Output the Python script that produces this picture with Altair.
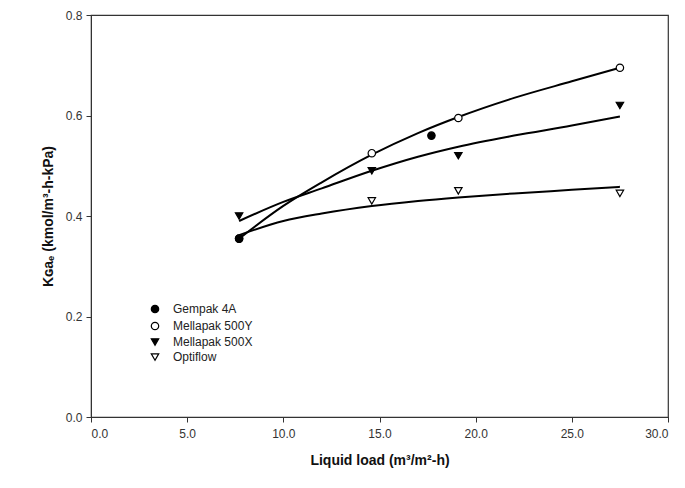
import altair as alt
import pandas as pd

series_names = ["Gempak 4A", "Mellapak 500Y", "Mellapak 500X", "Optiflow"]

# measured points
gempak_x = [7.7, 17.7]
gempak_y = [0.355, 0.56]
m500y_x = [7.7, 14.6, 19.1, 27.5]
m500y_y = [0.355, 0.525, 0.595, 0.695]
m500x_x = [7.7, 14.6, 19.1, 27.5]
m500x_y = [0.40, 0.49, 0.52, 0.62]
opti_x = [14.6, 19.1, 27.5]
opti_y = [0.43, 0.45, 0.445]

# fitted curves
fit_x = [7.7, 10.0, 12.0, 14.6, 17.0, 19.1, 22.0, 25.0, 27.5]
fit_500y = [0.355, 0.42, 0.467, 0.522, 0.565, 0.597, 0.635, 0.668, 0.695]
fit_500x = [0.39, 0.428, 0.455, 0.49, 0.518, 0.538, 0.56, 0.58, 0.598]
fit_opti = [0.362, 0.39, 0.405, 0.42, 0.43, 0.437, 0.445, 0.452, 0.458]

rows = []
for name, xs, ys in [
    ("Mellapak 500Y", m500y_x, m500y_y),
    ("Mellapak 500X", m500x_x, m500x_y),
    ("Optiflow", opti_x, opti_y),
    ("Gempak 4A", gempak_x, gempak_y),
]:
    for x, y in zip(xs, ys):
        rows.append({"series": name, "x": x, "y": y, "order": len(rows)})
pts = pd.DataFrame(rows)

frows = []
for name, ys in [("500Y", fit_500y), ("500X", fit_500x), ("Opti", fit_opti)]:
    for x, y in zip(fit_x, ys):
        frows.append({"fit": name, "x": x, "y": y})
fits = pd.DataFrame(frows)

xscale = alt.Scale(domain=[0, 30], nice=False)
yscale = alt.Scale(domain=[0, 0.8], nice=False)

xaxis = alt.Axis(
    title="Liquid load (m³/m²-h)",
    values=[0, 5, 10, 15, 20, 25, 30],
    format=".1f",
    grid=False,
    tickSize=5,
    labelPadding=6,
    titlePadding=14,
)
yaxis = alt.Axis(
    title="Kɢaₑ (kmol/m³-h-kPa)",
    values=[0, 0.2, 0.4, 0.6, 0.8],
    format=".1f",
    grid=False,
    tickSize=5,
    labelPadding=4,
    titlePadding=10,
)

lines = alt.Chart(fits).mark_line(
    color="black", strokeWidth=2, interpolate="monotone"
).encode(
    x=alt.X("x:Q", scale=xscale, axis=xaxis),
    y=alt.Y("y:Q", scale=yscale, axis=yaxis),
    detail="fit:N",
)

legend = alt.Legend(
    title=None,
    orient="none",
    legendX=58,
    legendY=288,
    labelFont="Liberation Sans",
    labelFontSize=12,
    labelColor="#222",
    rowPadding=3,
    symbolSize=55,
    symbolStrokeWidth=1.2,
    labelOffset=12,
)

points = alt.Chart(pts).mark_point(
    size=55, strokeWidth=1.2, opacity=1, filled=False
).encode(
    x=alt.X("x:Q", scale=xscale),
    y=alt.Y("y:Q", scale=yscale),
    shape=alt.Shape(
        "series:N",
        sort=series_names,
        scale=alt.Scale(
            domain=series_names,
            range=["circle", "circle", "triangle-down", "triangle-down"],
        ),
        legend=legend,
    ),
    fill=alt.Fill(
        "series:N",
        sort=series_names,
        scale=alt.Scale(
            domain=series_names, range=["black", "white", "black", "white"]
        ),
        legend=legend,
    ),
    stroke=alt.Stroke(
        "series:N",
        sort=series_names,
        scale=alt.Scale(
            domain=series_names, range=["black", "black", "black", "black"]
        ),
        legend=legend,
    ),
    order="order:Q",
)

chart = (
    alt.layer(lines, points)
    .properties(
        width=577,
        height=402,
        autosize=alt.AutoSizeParams(type="none"),
        padding={"left": 83, "top": 7, "right": 9, "bottom": 62},
    )
    .configure_view(stroke="#333", strokeWidth=1.2)
    .configure_axis(
        labelFont="Liberation Sans",
        labelFontSize=12,
        labelColor="#333",
        titleFont="Liberation Sans",
        titleFontSize=14,
        titleFontWeight="bold",
        titleColor="#111",
        domainColor="#333",
        tickColor="#333",
    )
)

chart.save("out.html", embed_options={"renderer": "svg", "actions": False})
